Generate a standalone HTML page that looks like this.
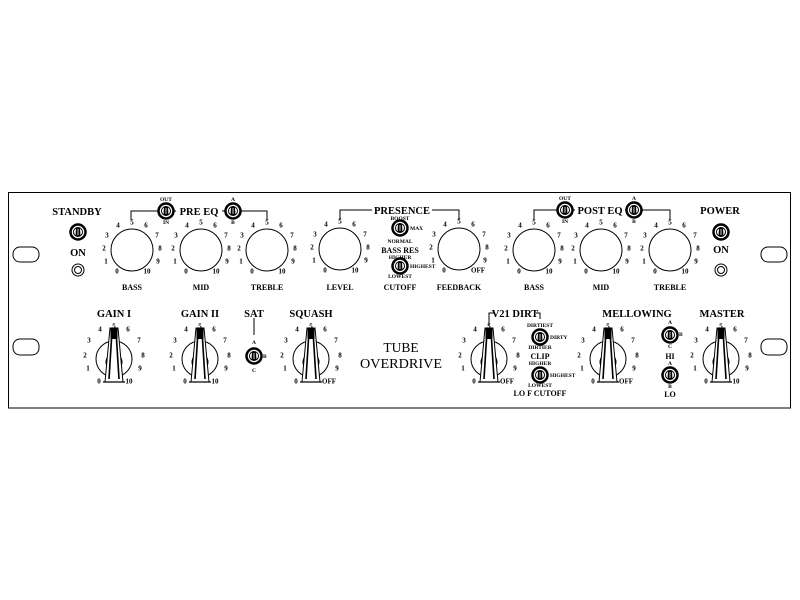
<!DOCTYPE html>
<html><head><meta charset="utf-8"><style>
html,body{margin:0;padding:0;background:#fff;width:800px;height:600px;overflow:hidden}
svg{display:block}
text{font-family:"Liberation Serif",serif;font-weight:bold;fill:#000}
.n{font-size:7px;text-anchor:middle}
.l{font-size:8px;text-anchor:middle}
.h{font-size:10.5px;text-anchor:middle}
.s{font-size:5.5px;text-anchor:middle}
.st{font-size:5.5px;text-anchor:start}
</style></head><body>
<svg width="800" height="600" viewBox="0 0 800 600" xmlns="http://www.w3.org/2000/svg">
<rect x="0" y="0" width="800" height="600" fill="#fff"/>
<g fill="none" stroke="#000" stroke-width="1">
<rect x="8.5" y="192.5" width="782" height="215.5"/>
<rect x="13" y="247" width="26" height="15" rx="7"/>
<rect x="13" y="339" width="26" height="16" rx="7"/>
<rect x="761" y="247" width="26" height="15" rx="7"/>
<rect x="761" y="339" width="26" height="16" rx="7"/>
<!-- top knobs -->
<circle cx="132" cy="250" r="21"/><circle cx="201" cy="250" r="21"/><circle cx="267" cy="250" r="21"/>
<circle cx="340" cy="249" r="21"/><circle cx="459" cy="249" r="21"/>
<circle cx="534" cy="250" r="21"/><circle cx="601" cy="250" r="21"/><circle cx="670" cy="250" r="21"/>
<!-- brackets -->
<polyline points="131,220 131,211 267,211 267,220"/>
<polyline points="340,220 340,210 459,210 459,220"/>
<polyline points="534,220 534,210 670,210 670,220"/>
<polyline points="489,326 489,313 540,313 540,319"/>
<line x1="254" y1="318" x2="254" y2="335"/>
<circle cx="78" cy="270" r="6"/><circle cx="78" cy="270" r="3.5"/>
<circle cx="721" cy="270" r="6"/><circle cx="721" cy="270" r="3.5"/>
</g>
<!-- white masks behind bracket texts -->
<rect x="176" y="205" width="46" height="12" fill="#fff"/>
<rect x="372" y="204" width="60" height="12" fill="#fff"/>
<rect x="575" y="204" width="50" height="12" fill="#fff"/>
<rect x="494" y="307" width="42" height="12" fill="#fff"/>

<defs>
<g id="tg">
<circle r="7.5" fill="#fff" stroke="#000" stroke-width="2.5"/>
<circle r="4.5" fill="none" stroke="#000" stroke-width="1"/>
<path d="M-2,-4 L2,-4 L2.5,4 L-2.5,4 Z" fill="#000"/>
<line x1="0" y1="-3" x2="0" y2="3" stroke="#fff" stroke-width="0.8"/>
</g>
<g id="ch">
<circle r="18" fill="none" stroke="#000"/>
<circle cy="3" r="8" fill="none" stroke="#000"/>
<path d="M-4,-31 L4,-31 L9,23 L-9,23 Z" fill="#fff" stroke="#000"/>
<rect x="-3.5" y="-31" width="7" height="11" fill="#000"/>
<line x1="-2.5" y1="-20" x2="-5" y2="20" stroke="#000" stroke-width="1.6"/>
<line x1="2.5" y1="-20" x2="5" y2="20" stroke="#000" stroke-width="1.6"/>
<line x1="-11" y1="23" x2="11" y2="23" stroke="#000" stroke-width="1.2"/>
</g>
</defs>
<use href="#tg" x="78" y="232"/><use href="#tg" x="721" y="232"/>
<use href="#tg" x="166" y="211"/><use href="#tg" x="233" y="211"/>
<use href="#tg" x="565" y="210"/><use href="#tg" x="634" y="210"/>
<use href="#tg" x="400" y="228"/><use href="#tg" x="400" y="266"/>
<use href="#tg" x="254" y="356"/>
<use href="#tg" x="540" y="337"/><use href="#tg" x="540" y="375"/>
<use href="#tg" x="670" y="335"/><use href="#tg" x="670" y="375"/>
<use href="#ch" x="114" y="359"/><use href="#ch" x="200" y="359"/><use href="#ch" x="311" y="359"/>
<use href="#ch" x="489" y="359"/><use href="#ch" x="608" y="359"/><use href="#ch" x="721" y="359"/>

<!-- headings -->
<text class="h" x="77" y="215">STANDBY</text>
<text class="h" x="78" y="256">ON</text>
<text class="h" x="720" y="214">POWER</text>
<text class="h" x="721" y="253">ON</text>
<text class="h" x="199" y="215">PRE EQ</text>
<text class="h" x="402" y="214">PRESENCE</text>
<text class="h" x="600" y="214">POST EQ</text>
<text class="h" x="114" y="317">GAIN I</text>
<text class="h" x="200" y="317">GAIN II</text>
<text class="h" x="254" y="317">SAT</text>
<text class="h" x="311" y="317">SQUASH</text>
<text class="h" x="515" y="317">V21 DIRT</text>
<text class="h" x="637" y="317">MELLOWING</text>
<text class="h" x="722" y="317">MASTER</text>
<text x="401" y="352" style="font-size:13.5px;font-weight:normal;text-anchor:middle">TUBE</text>
<text x="401" y="368" style="font-size:13.5px;font-weight:normal;text-anchor:middle" textLength="82" lengthAdjust="spacingAndGlyphs">OVERDRIVE</text>

<!-- labels -->
<text class="l" x="132" y="290">BASS</text><text class="l" x="201" y="290">MID</text><text class="l" x="267" y="290">TREBLE</text>
<text class="l" x="340" y="290">LEVEL</text><text class="l" x="400" y="290">CUTOFF</text><text class="l" x="459" y="290">FEEDBACK</text>
<text class="l" x="534" y="290">BASS</text><text class="l" x="601" y="290">MID</text><text class="l" x="670" y="290">TREBLE</text>
<text class="l" x="400" y="253">BASS RES</text>
<text class="l" x="540" y="359">CLIP</text>
<text class="l" x="540" y="396">LO F CUTOFF</text>
<text class="l" x="670" y="359">HI</text>
<text class="l" x="670" y="397">LO</text>

<!-- small toggle labels -->
<text class="s" x="166" y="201">OUT</text><text class="s" x="166" y="224">IN</text>
<text class="s" x="233" y="201">A</text><text class="s" x="233" y="224">B</text>
<text class="s" x="565" y="200">OUT</text><text class="s" x="565" y="223">IN</text>
<text class="s" x="634" y="200">A</text><text class="s" x="634" y="223">B</text>
<text class="s" x="400" y="220">BOOST</text><text class="st" x="410" y="230">MAX</text>
<text class="s" x="400" y="243">NORMAL</text>
<text class="s" x="400" y="259">HIGHER</text><text class="st" x="410" y="268">HIGHEST</text>
<text class="s" x="400" y="278">LOWEST</text>
<text class="s" x="254" y="344">A</text><text class="st" x="263" y="358">B</text><text class="s" x="254" y="372">C</text>
<text class="s" x="540" y="327">DIRTIEST</text><text class="st" x="550" y="339">DIRTY</text>
<text class="s" x="540" y="349">DIRTIER</text>
<text class="s" x="540" y="365">HIGHER</text><text class="st" x="550" y="377">HIGHEST</text>
<text class="s" x="540" y="387">LOWEST</text>
<text class="s" x="670" y="324">A</text><text class="st" x="679" y="336">B</text><text class="s" x="670" y="348">C</text>
<text class="s" x="670" y="365">A</text><text class="s" x="670" y="388">B</text>

<!-- top knob numbers -->
<g transform="translate(132,252.5)" class="n"><text class="n" x="-15" y="21">0</text><text class="n" x="-26" y="11">1</text><text class="n" x="-28" y="-2">2</text><text class="n" x="-25" y="-15">3</text><text class="n" x="-14" y="-25">4</text><text class="n" x="0" y="-28">5</text><text class="n" x="14" y="-25">6</text><text class="n" x="25" y="-15">7</text><text class="n" x="28" y="-2">8</text><text class="n" x="26" y="11">9</text><text class="n" x="15" y="21">10</text></g>
<g transform="translate(201,252.5)"><text class="n" x="-15" y="21">0</text><text class="n" x="-26" y="11">1</text><text class="n" x="-28" y="-2">2</text><text class="n" x="-25" y="-15">3</text><text class="n" x="-14" y="-25">4</text><text class="n" x="0" y="-28">5</text><text class="n" x="14" y="-25">6</text><text class="n" x="25" y="-15">7</text><text class="n" x="28" y="-2">8</text><text class="n" x="26" y="11">9</text><text class="n" x="15" y="21">10</text></g>
<g transform="translate(267,252.5)"><text class="n" x="-15" y="21">0</text><text class="n" x="-26" y="11">1</text><text class="n" x="-28" y="-2">2</text><text class="n" x="-25" y="-15">3</text><text class="n" x="-14" y="-25">4</text><text class="n" x="0" y="-28">5</text><text class="n" x="14" y="-25">6</text><text class="n" x="25" y="-15">7</text><text class="n" x="28" y="-2">8</text><text class="n" x="26" y="11">9</text><text class="n" x="15" y="21">10</text></g>
<g transform="translate(340,251.5)"><text class="n" x="-15" y="21">0</text><text class="n" x="-26" y="11">1</text><text class="n" x="-28" y="-2">2</text><text class="n" x="-25" y="-15">3</text><text class="n" x="-14" y="-25">4</text><text class="n" x="0" y="-28">5</text><text class="n" x="14" y="-25">6</text><text class="n" x="25" y="-15">7</text><text class="n" x="28" y="-2">8</text><text class="n" x="26" y="11">9</text><text class="n" x="15" y="21">10</text></g>
<g transform="translate(459,251.5)"><text class="n" x="-15" y="21">0</text><text class="n" x="-26" y="11">1</text><text class="n" x="-28" y="-2">2</text><text class="n" x="-25" y="-15">3</text><text class="n" x="-14" y="-25">4</text><text class="n" x="0" y="-28">5</text><text class="n" x="14" y="-25">6</text><text class="n" x="25" y="-15">7</text><text class="n" x="28" y="-2">8</text><text class="n" x="26" y="11">9</text><text class="n" x="19" y="21">OFF</text></g>
<g transform="translate(534,252.5)"><text class="n" x="-15" y="21">0</text><text class="n" x="-26" y="11">1</text><text class="n" x="-28" y="-2">2</text><text class="n" x="-25" y="-15">3</text><text class="n" x="-14" y="-25">4</text><text class="n" x="0" y="-28">5</text><text class="n" x="14" y="-25">6</text><text class="n" x="25" y="-15">7</text><text class="n" x="28" y="-2">8</text><text class="n" x="26" y="11">9</text><text class="n" x="15" y="21">10</text></g>
<g transform="translate(601,252.5)"><text class="n" x="-15" y="21">0</text><text class="n" x="-26" y="11">1</text><text class="n" x="-28" y="-2">2</text><text class="n" x="-25" y="-15">3</text><text class="n" x="-14" y="-25">4</text><text class="n" x="0" y="-28">5</text><text class="n" x="14" y="-25">6</text><text class="n" x="25" y="-15">7</text><text class="n" x="28" y="-2">8</text><text class="n" x="26" y="11">9</text><text class="n" x="15" y="21">10</text></g>
<g transform="translate(670,252.5)"><text class="n" x="-15" y="21">0</text><text class="n" x="-26" y="11">1</text><text class="n" x="-28" y="-2">2</text><text class="n" x="-25" y="-15">3</text><text class="n" x="-14" y="-25">4</text><text class="n" x="0" y="-28">5</text><text class="n" x="14" y="-25">6</text><text class="n" x="25" y="-15">7</text><text class="n" x="28" y="-2">8</text><text class="n" x="26" y="11">9</text><text class="n" x="15" y="21">10</text></g>

<!-- bottom knob numbers -->
<g transform="translate(114,361.5)"><text class="n" x="-15" y="22">0</text><text class="n" x="-26" y="9">1</text><text class="n" x="-29" y="-4">2</text><text class="n" x="-25" y="-19">3</text><text class="n" x="-14" y="-30">4</text><text class="n" x="0" y="-33">5</text><text class="n" x="14" y="-30">6</text><text class="n" x="25" y="-19">7</text><text class="n" x="29" y="-4">8</text><text class="n" x="26" y="9">9</text><text class="n" x="15" y="22">10</text></g>
<g transform="translate(200,361.5)"><text class="n" x="-15" y="22">0</text><text class="n" x="-26" y="9">1</text><text class="n" x="-29" y="-4">2</text><text class="n" x="-25" y="-19">3</text><text class="n" x="-14" y="-30">4</text><text class="n" x="0" y="-33">5</text><text class="n" x="14" y="-30">6</text><text class="n" x="25" y="-19">7</text><text class="n" x="29" y="-4">8</text><text class="n" x="26" y="9">9</text><text class="n" x="15" y="22">10</text></g>
<g transform="translate(311,361.5)"><text class="n" x="-15" y="22">0</text><text class="n" x="-26" y="9">1</text><text class="n" x="-29" y="-4">2</text><text class="n" x="-25" y="-19">3</text><text class="n" x="-14" y="-30">4</text><text class="n" x="0" y="-33">5</text><text class="n" x="14" y="-30">6</text><text class="n" x="25" y="-19">7</text><text class="n" x="29" y="-4">8</text><text class="n" x="26" y="9">9</text><text class="n" x="18" y="22">OFF</text></g>
<g transform="translate(489,361.5)"><text class="n" x="-15" y="22">0</text><text class="n" x="-26" y="9">1</text><text class="n" x="-29" y="-4">2</text><text class="n" x="-25" y="-19">3</text><text class="n" x="-14" y="-30">4</text><text class="n" x="0" y="-33">5</text><text class="n" x="14" y="-30">6</text><text class="n" x="25" y="-19">7</text><text class="n" x="29" y="-4">8</text><text class="n" x="26" y="9">9</text><text class="n" x="18" y="22">OFF</text></g>
<g transform="translate(608,361.5)"><text class="n" x="-15" y="22">0</text><text class="n" x="-26" y="9">1</text><text class="n" x="-29" y="-4">2</text><text class="n" x="-25" y="-19">3</text><text class="n" x="-14" y="-30">4</text><text class="n" x="0" y="-33">5</text><text class="n" x="14" y="-30">6</text><text class="n" x="25" y="-19">7</text><text class="n" x="29" y="-4">8</text><text class="n" x="26" y="9">9</text><text class="n" x="18" y="22">OFF</text></g>
<g transform="translate(721,361.5)"><text class="n" x="-15" y="22">0</text><text class="n" x="-26" y="9">1</text><text class="n" x="-29" y="-4">2</text><text class="n" x="-25" y="-19">3</text><text class="n" x="-14" y="-30">4</text><text class="n" x="0" y="-33">5</text><text class="n" x="14" y="-30">6</text><text class="n" x="25" y="-19">7</text><text class="n" x="29" y="-4">8</text><text class="n" x="26" y="9">9</text><text class="n" x="15" y="22">10</text></g>
</svg>
</body></html>
